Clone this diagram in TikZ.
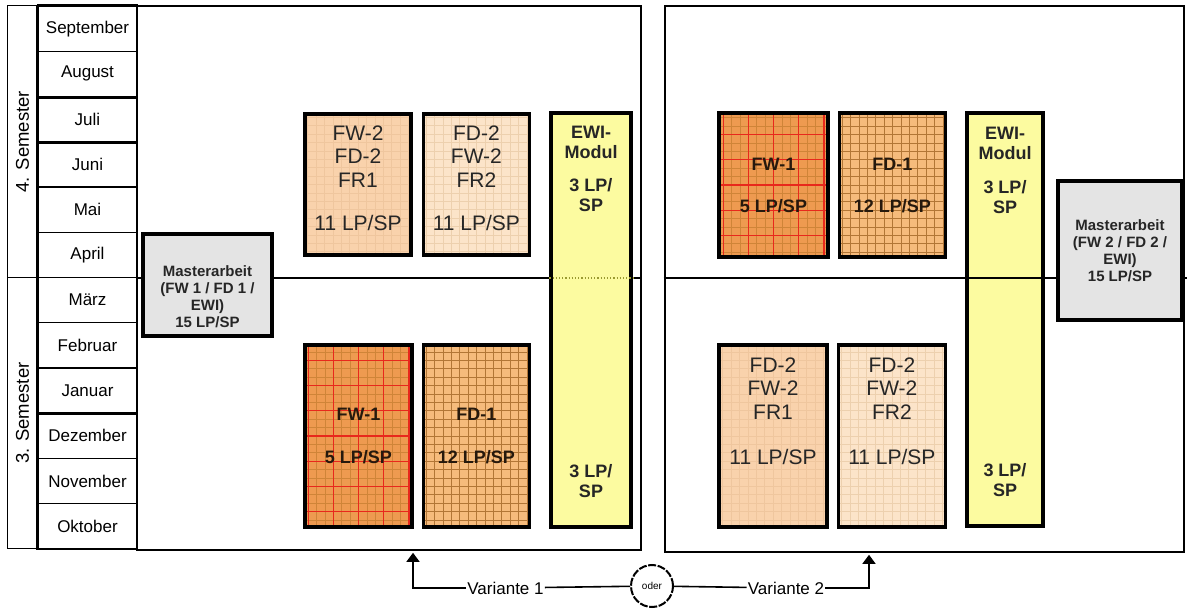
\documentclass[tikz,border=0pt]{standalone}
\usepackage{fontspec}
\setmainfont{Liberation Sans}
\usetikzlibrary{arrows.meta,positioning}

\definecolor{masterfill}{HTML}{E4E4E4}
\definecolor{peachA}{HTML}{F9D2AC}
\definecolor{peachAline}{HTML}{EFC69E}
\definecolor{peachB}{HTML}{FCE4C9}
\definecolor{peachBline}{HTML}{EDD0AE}
\definecolor{fwfill}{HTML}{EE9A50}
\definecolor{fwfine}{HTML}{CF8438}
\definecolor{fwred}{HTML}{E8281C}
\definecolor{fdfill}{HTML}{F6BB7C}
\definecolor{fdfine}{HTML}{B27636}
\definecolor{ewifill}{HTML}{FCFBA0}
\definecolor{ewidot}{HTML}{9A9A30}

\tikzset{
  month/.style={draw, line width=1.2pt, minimum width=99pt, minimum height=45.25pt,
    inner sep=0pt, font=\fontsize{17}{20}\selectfont},
  semester/.style={draw, line width=1pt, rotate=90, minimum width=271.5pt,
    minimum height=31pt, inner sep=0pt, font=\fontsize{18.5}{22}\selectfont},
  thickline/.style={line width=3pt},
  panel/.style={draw, line width=2.8pt, inner sep=0pt},
  semline/.style={line width=2.6pt},
  modbox/.style={draw, line width=3.4pt, inner sep=0pt},
  gridded/.style 2 args={path picture={\draw[#1, line width=0.6pt, step=#2]
    (path picture bounding box.south west) grid (path picture bounding box.north east);}},
  redgrid/.style={path picture={
    \draw[fwfine, line width=0.6pt, step=8.4pt]
      (path picture bounding box.south west) grid (path picture bounding box.north east);
    \draw[fwred, line width=1.2pt, step=25.2pt]
      (path picture bounding box.south west) grid (path picture bounding box.north east);}},
  master/.style={modbox, fill=masterfill},
  peachone/.style={modbox, fill=peachA, gridded={peachAline}{8.4pt},
    minimum width=106pt, minimum height=#1},
  peachtwo/.style={modbox, fill=peachB, gridded={peachBline}{8.4pt},
    minimum width=106pt, minimum height=#1},
  fwone/.style={modbox, fill=fwfill, redgrid, minimum width=107pt, minimum height=#1},
  fdone/.style={modbox, fill=fdfill, gridded={fdfine}{8.4pt},
    minimum width=106pt, minimum height=#1},
  ewi/.style={modbox, fill=ewifill, minimum height=414pt},
  mastertext/.style={font=\fontsize{15}{17}\selectfont\bfseries, align=center,
    text=black!85},
  peachtext/.style={font=\fontsize{21}{23.5}\selectfont, align=center, anchor=north,
    inner sep=0pt, text=black!85},
  credtext/.style={font=\fontsize{18}{20}\selectfont\bfseries, align=center,
    text=black!80!brown},
  ewitext/.style={font=\fontsize{18}{20}\selectfont\bfseries, align=center,
    inner sep=0pt, text=black!85},
  variant/.style={font=\fontsize{17}{20}\selectfont, inner sep=1pt},
  oder/.style={draw, circle, line width=2pt, dash pattern=on 8pt off 1.6pt,
    minimum size=42pt, inner sep=0pt, font=\fontsize{10}{12}\selectfont},
}

\begin{document}
\begin{tikzpicture}[x=1pt,y=-1pt,>={Triangle[length=9pt,width=13pt]}]
  \useasboundingbox (0,0) rectangle (1187,609);

  % months and semesters
  \foreach \mon [count=\i] in {September,August,Juli,Juni,Mai,April,März,Februar,
      Januar,Dezember,November,Oktober}
    \node[month] (m\i) at (87.5,{6+45.25*(\i-0.5)}) {\mon};
  \node[semester] (sem4) at (22.5,141.75) {4. Semester};
  \node[semester] (sem3) at (22.5,413.25) {3. Semester};
  \draw[thickline] (m1.north west) -- (m1.north east)
                   (m2.south west) -- (m2.south east)
                   (m3.south west) -- (m3.south east)
                   (m9.south west) -- (m9.south east)
                   (m1.north west) -- (m12.south west);

  % variant 1
  \node[panel, minimum width=504pt, minimum height=544pt] (panelL) at (389,278) {};
  \draw[semline] (panelL.west |- m6.south) -- (panelL.east |- m6.south);

  \node[master, minimum width=129pt, minimum height=102pt] (masterL) at (207.5,285) {};
  \node[mastertext] at ([yshift=-12pt]masterL.center)
    {Masterarbeit\\(FW 1 / FD 1 /\\EWI)\\15 LP/SP};

  \node[peachone=141pt] (fwtwoL) at (358,184.5) {};
  \node[peachtwo=141pt, right=9pt of fwtwoL] (fdtwoL) {};
  \node[peachtext] at ([yshift=-13pt]fwtwoL.north) {FW-2\\FD-2\\FR1\\[20pt]11 LP/SP};
  \node[peachtext] at ([yshift=-13pt]fdtwoL.north) {FD-2\\FW-2\\FR2\\[20pt]11 LP/SP};

  \node[fwone=182pt] (fwoneL) at (358.5,436) {};
  \node[fdone=182pt, right=8pt of fwoneL] (fdoneL) {};
  \node[credtext] at (fwoneL) {FW-1\\[23pt]5 LP/SP};
  \node[credtext] at (fdoneL) {FD-1\\[23pt]12 LP/SP};

  \node[ewi, minimum width=80pt] (ewiL) at (591,320) {};
  \draw[ewidot, dotted, line width=1.2pt] (ewiL.west |- m6.south) -- (ewiL.east |- m6.south);
  \node[ewitext, anchor=north] at ([yshift=-15pt]ewiL.north) {EWI-\\Modul\\[13pt]3 LP/\\SP};
  \node[ewitext, anchor=south] at ([yshift=31pt]ewiL.south) {3 LP/\\SP};

  % variant 2
  \node[panel, minimum width=519pt, minimum height=546pt] (panelR) at (924.5,279) {};

  \node[fwone=144pt, minimum width=109pt] (fwoneR) at (773.5,185) {};
  \node[fdone=144pt, right=8pt of fwoneR] (fdoneR) {};
  \node[credtext] at (fwoneR) {FW-1\\[22pt]5 LP/SP};
  \node[credtext] at (fdoneR) {FD-1\\[22pt]12 LP/SP};

  \node[peachone=182pt, minimum width=108pt] (fdtwoR) at (773,436) {};
  \node[peachtwo=182pt, minimum width=107pt, right=8pt of fdtwoR] (fdthreeR) {};
  \node[peachtext] at ([yshift=-14pt]fdtwoR.north) {FD-2\\FW-2\\FR1\\[22pt]11 LP/SP};
  \node[peachtext] at ([yshift=-14pt]fdthreeR.north) {FD-2\\FW-2\\FR2\\[22pt]11 LP/SP};

  \node[ewi, minimum width=76pt, minimum height=413pt] (ewiR) at (1005,319.5) {};
  \node[ewitext, anchor=north] at ([yshift=-16pt]ewiR.north) {EWI-\\Modul\\[14pt]3 LP/\\SP};
  \node[ewitext, anchor=south] at ([yshift=31pt]ewiR.south) {3 LP/\\SP};
  \draw[semline] (panelR.west |- m6.south) -- (1187,0 |- m6.south);

  \node[master, minimum width=124pt, minimum height=139pt] (masterR) at (1120,250.5) {};
  \node[mastertext] at (masterR) {Masterarbeit\\(FW 2 / FD 2 /\\EWI)\\15 LP/SP};

  % choice
  \node[oder] (oder) at (652,586) {oder};
  \node[variant] (var1) at (505.5,588) {Variante 1};
  \node[variant] (var2) at (786,588) {Variante 2};
  \coordinate (c1) at (413,588);
  \coordinate (c2) at (869,588);
  \draw[line width=1.6pt] (oder) -- (var1);
  \draw[line width=1.6pt] (oder) -- (var2);
  \draw[->, line width=1.6pt] (var1.west) -- (c1) -- ([yshift=-1.4pt]c1 |- panelL.south);
  \draw[->, line width=1.6pt] (var2.east) -- (c2) -- ([yshift=-1.4pt]c2 |- panelR.south);
\end{tikzpicture}
\end{document}
